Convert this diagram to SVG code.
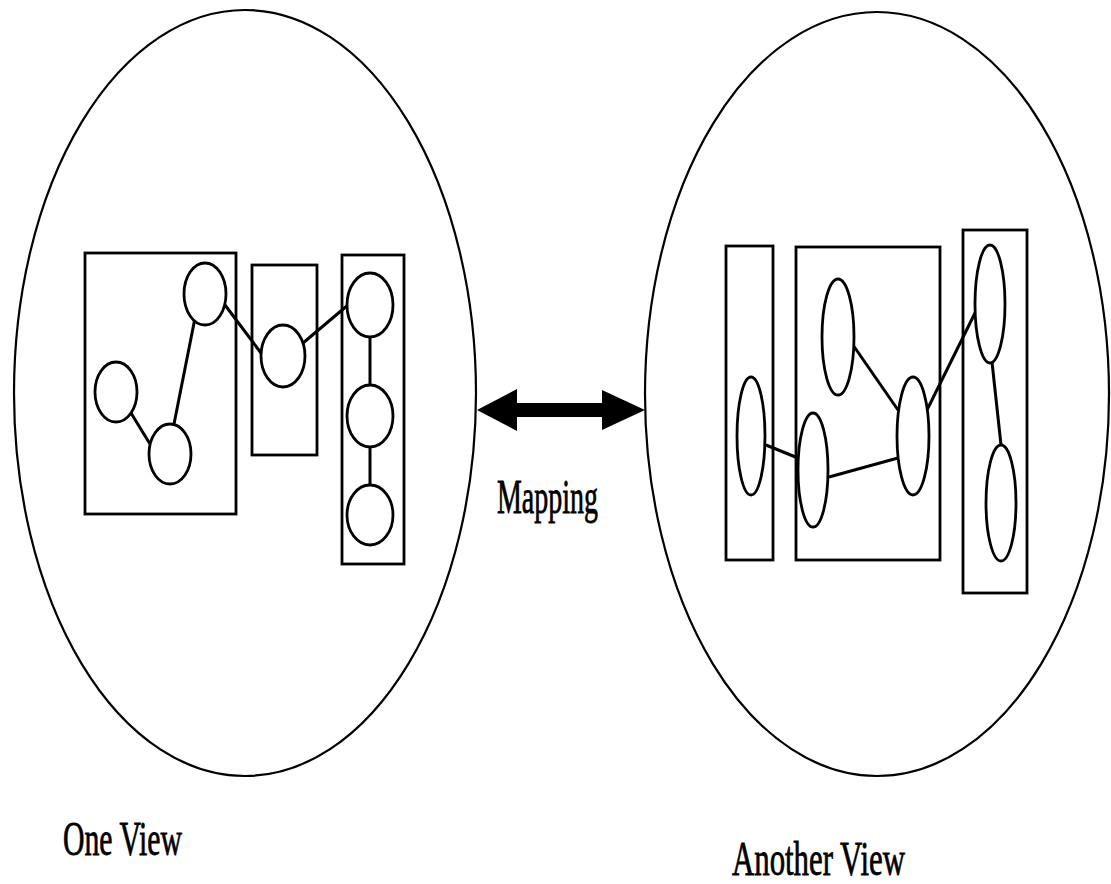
<svg xmlns="http://www.w3.org/2000/svg" width="1111" height="884" viewBox="0 0 1111 884">
<style>
.view{fill:none;stroke:#000;stroke-width:2.2}
.box{fill:none;stroke:#000;stroke-width:2.8}
.nd{fill:#fff;stroke:#000;stroke-width:2.8}
.ln{stroke:#000;stroke-width:3;fill:none}
.lbl{font-family:"Liberation Serif","Times New Roman",serif;font-size:48px;fill:#000;stroke:#000;stroke-width:0.8}
</style>
<rect width="1111" height="884" fill="#fff"/>
<g id="view-one">
<ellipse class="view" cx="245" cy="393" rx="231" ry="383"/>
</g>
<g id="view-another">
<ellipse class="view" cx="877" cy="394" rx="232" ry="382"/>
</g>
<g id="left-boxes">
<rect id="L-box1" class="box" x="85" y="253" width="151" height="261"/>
<rect id="L-box2" class="box" x="252" y="265" width="65" height="190"/>
<rect id="L-box3" class="box" x="342" y="255" width="62" height="309"/>
</g>
<g id="right-boxes">
<rect id="R-box1" class="box" x="726" y="246" width="47" height="314"/>
<rect id="R-box2" class="box" x="796" y="247" width="144" height="313"/>
<rect id="R-box3" class="box" x="963" y="230" width="64" height="363"/>
</g>
<g id="connectors">
<line class="ln" x1="131" y1="413" x2="150" y2="444"/>
<line class="ln" x1="174" y1="424" x2="196" y2="313"/>
<line class="ln" x1="225" y1="305" x2="261" y2="353"/>
<line class="ln" x1="303" y1="343" x2="348" y2="305"/>
<line class="ln" x1="370" y1="337" x2="370" y2="385"/>
<line class="ln" x1="370" y1="447" x2="370" y2="485"/>
<line class="ln" x1="766" y1="445" x2="798" y2="458"/>
<line class="ln" x1="829" y1="477" x2="898" y2="458"/>
<line class="ln" x1="853" y1="345" x2="898" y2="410"/>
<line class="ln" x1="927" y1="410" x2="975" y2="313"/>
<line class="ln" x1="992" y1="362" x2="1001" y2="445"/>
<path id="mapping-arrow" d="M477,410 L517,389 L517,403 L602,403 L602,390 L645,410 L602,430 L602,417 L517,417 L517,431 Z" fill="#000"/>
</g>
<g id="L-n1"><ellipse class="nd" cx="205" cy="294" rx="21" ry="31"/></g>
<g id="L-n2"><ellipse class="nd" cx="116" cy="392" rx="21" ry="30"/></g>
<g id="L-n3"><ellipse class="nd" cx="170" cy="454" rx="21" ry="30"/></g>
<g id="L-n4"><ellipse class="nd" cx="283" cy="356" rx="22" ry="31"/></g>
<g id="L-n5"><ellipse class="nd" cx="370" cy="305" rx="23" ry="32"/></g>
<g id="L-n6"><ellipse class="nd" cx="370" cy="416" rx="23" ry="31"/></g>
<g id="L-n7"><ellipse class="nd" cx="370" cy="515" rx="23" ry="30"/></g>
<g id="R-n1"><ellipse class="nd" cx="751" cy="436" rx="14" ry="59"/></g>
<g id="R-n2"><ellipse class="nd" cx="838" cy="337" rx="16" ry="58"/></g>
<g id="R-n3"><ellipse class="nd" cx="813" cy="470" rx="15" ry="57"/></g>
<g id="R-n4"><ellipse class="nd" cx="913" cy="436" rx="16" ry="59"/></g>
<g id="R-n5"><ellipse class="nd" cx="990" cy="304" rx="15" ry="59"/></g>
<g id="R-n6"><ellipse class="nd" cx="1001" cy="503" rx="15" ry="58"/></g>
<g id="labels">
<text class="lbl" x="63" y="855" textLength="119" lengthAdjust="spacingAndGlyphs">One View</text>
<text class="lbl" x="732" y="875" textLength="173" lengthAdjust="spacingAndGlyphs">Another View</text>
<text class="lbl" x="497" y="513" textLength="101" lengthAdjust="spacingAndGlyphs">Mapping</text>
</g>
</svg>
